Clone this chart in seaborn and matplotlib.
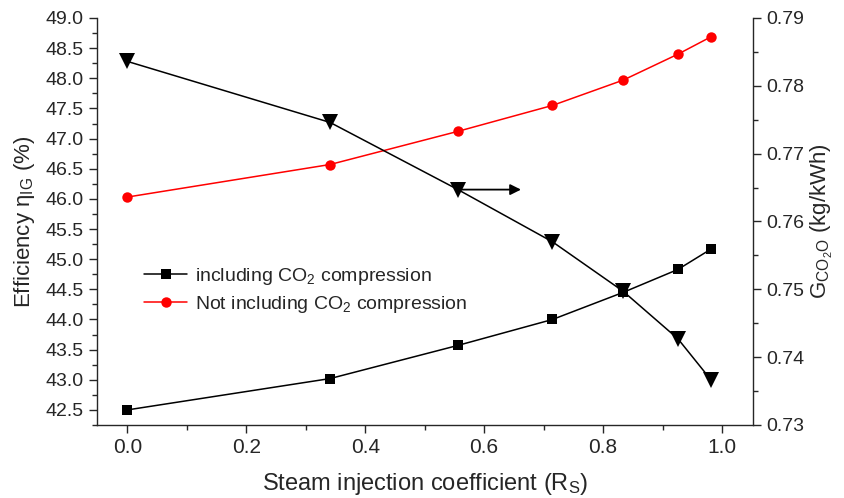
import matplotlib
matplotlib.use("Agg")
import matplotlib.pyplot as plt
from matplotlib.ticker import MultipleLocator
import seaborn as sns
import pandas as pd

# data
rs = [0.0, 0.341, 0.556, 0.715, 0.834, 0.926, 0.982]
eff_incl = [42.50, 43.02, 43.57, 44.00, 44.45, 44.83, 45.17]
eff_not = [46.03, 46.57, 47.12, 47.55, 47.97, 48.40, 48.69]
gco2 = [0.7836, 0.7746, 0.7647, 0.7570, 0.7497, 0.7427, 0.7366]

lab_incl = r"including CO$_2$ compression"
lab_not = r"Not including CO$_2$ compression"

sns.set_style("ticks")
plt.rcParams["font.family"] = ["Liberation Sans", "DejaVu Sans"]
plt.rcParams["mathtext.fontset"] = "custom"
plt.rcParams["mathtext.rm"] = "Liberation Sans"
plt.rcParams["mathtext.it"] = "Liberation Sans"
plt.rcParams["mathtext.bf"] = "Liberation Sans:bold"

fig = plt.figure(figsize=(8.45, 4.98), dpi=100)
ax = fig.add_axes([0.1148, 0.1466, 0.7769, 0.8173])
ax2 = ax.twinx()

df = pd.DataFrame({"rs": rs, "incl": eff_incl, "not": eff_not, "g": gco2})

sns.lineplot(data=df, x="rs", y="incl", ax=ax, color="black", marker="s",
             markersize=7, markeredgewidth=0, linewidth=1.1, label=lab_incl)
sns.lineplot(data=df, x="rs", y="not", ax=ax, color="red", marker="o",
             markersize=7.5, markeredgewidth=0, linewidth=1.1, label=lab_not)
sns.lineplot(data=df, x="rs", y="g", ax=ax2, color="black", marker="v",
             markersize=11, markeredgewidth=0, linewidth=1.1, legend=False)

ax.set_xlim(-0.051, 1.053)
ax.set_ylim(42.25, 49.0)
ax2.set_ylim(0.73, 0.79)

ax.xaxis.set_major_locator(MultipleLocator(0.2))
ax.xaxis.set_minor_locator(MultipleLocator(0.1))
ax.yaxis.set_major_locator(MultipleLocator(0.5))
ax.yaxis.set_minor_locator(MultipleLocator(0.25))
ax2.yaxis.set_major_locator(MultipleLocator(0.01))
ax2.yaxis.set_minor_locator(MultipleLocator(0.005))
ax.xaxis.set_major_formatter(matplotlib.ticker.FormatStrFormatter("%.1f"))
ax.yaxis.set_major_formatter(matplotlib.ticker.FormatStrFormatter("%.1f"))
ax2.yaxis.set_major_formatter(matplotlib.ticker.FormatStrFormatter("%.2f"))

for a in (ax, ax2):
    a.spines["top"].set_visible(False)
    for s in a.spines.values():
        s.set_linewidth(1.0)
    a.tick_params(which="major", direction="out", length=6, width=1.0, labelsize=14)
    a.tick_params(which="minor", direction="out", length=3.5, width=1.0)
ax2.spines["left"].set_visible(False)
ax2.spines["bottom"].set_visible(False)
ax.spines["right"].set_visible(False)

for t in ax.get_xticklabels():
    t.set_fontsize(15)

ax.set_xlabel(r"Steam injection coefficient (R$_{\mathrm{S}}$)", fontsize=17,
              labelpad=10)
ax.set_ylabel(r"Efficiency η$_{\mathrm{IG}}$ (%)", fontsize=16, labelpad=6)
ax2.set_ylabel(r"G$_{\mathrm{CO_2O}}$ (kg/kWh)", fontsize=16, labelpad=3)

ax2.annotate("", xy=(0.662, gco2[2]), xytext=(0.556, gco2[2]),
             arrowprops=dict(arrowstyle="-|>", color="black", lw=1.3,
                             mutation_scale=16, shrinkA=0, shrinkB=0))

leg = ax.legend(loc="upper left", bbox_to_anchor=(0.06, 0.41), frameon=False,
                fontsize=14, handlelength=2.2, handletextpad=0.4,
                labelspacing=0.35, borderaxespad=0)

fig.savefig("out.png", dpi=100)
